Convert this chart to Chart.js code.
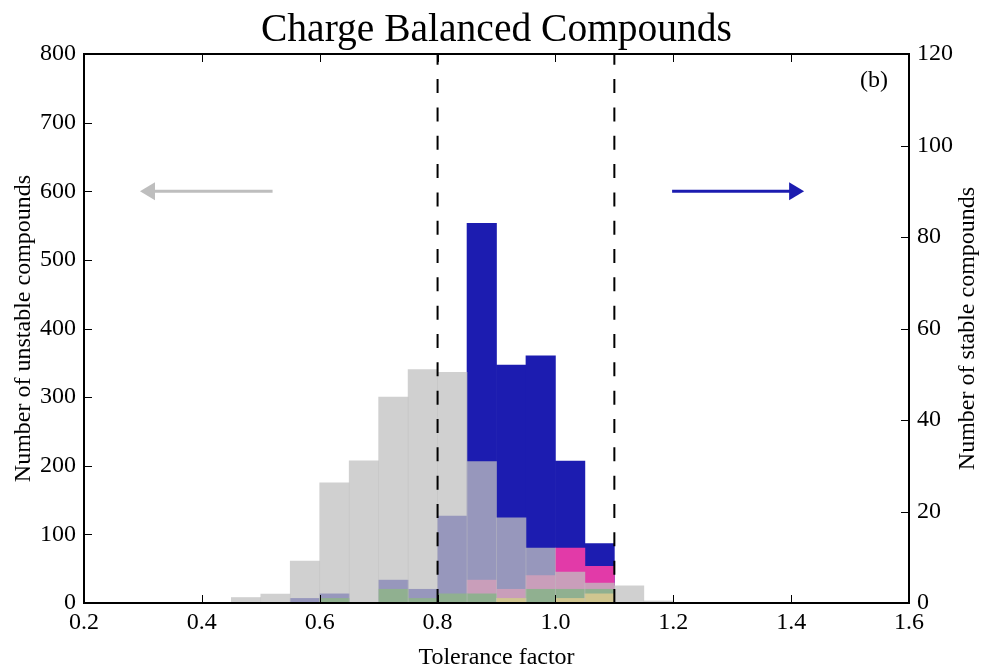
<!DOCTYPE html>
<html><head><meta charset="utf-8">
<script src="https://cdn.jsdelivr.net/npm/chart.js@4"></script>
<style>html,body{margin:0;padding:0;background:#fff}#wrap{width:984px;height:669px}</style>
</head><body><div id="wrap"><canvas id="c" width="984" height="669"></canvas></div>
<script>
// ---- data ----
const binCenters = [0.475,0.525,0.575,0.625,0.675,0.725,0.775,0.825,0.875,0.925,0.975,1.025,1.075,1.125,1.175];
const unstableCounts = [8,13,61,175,207,300,340,336,206,124,80,45,29,25,3];
const stableAll     = [0,0,1,2,0,5,3,19,83,52,54,31,13,0,0];
const stableMagenta = [0,0,0,0,0,0,0,0,5,3,6,12,8,0,0];
const stableGreen   = [0,0,0,1,0,3,1,2,2,0,3,3,3,0,0];
const stableGold    = [0,0,0,0,0,0,0,0,0,1,0,1,2,0,0];
const xTickValues = [0.2,0.4,0.6,0.8,1.0,1.2,1.4,1.6];
const leftTickValues = [0,100,200,300,400,500,600,700,800];
const rightTickValues = [0,20,40,60,80,100,120];
const boundaryLines = [0.8, 1.1];
const unstableArrowX = [0.52, 0.295];
const unstableArrowY = 600;
const stableArrowX = [1.198, 1.422];
const stableArrowY = 90;
const titleText = 'Charge Balanced Compounds';
const panelTag = '(b)';

const FONT = "'Liberation Serif','Times New Roman',serif";
Chart.defaults.font.family = FONT;
Chart.defaults.color = '#000';

const pts = vals => binCenters.map((x, i) => ({x: x, y: vals[i]}));
const vline = v => [{x: v, y: 0}, {x: v, y: 800}];
const BLUE = 'rgb(28,28,176)';

function drawArrow(ctx, x0, y0, x1, y1, color) {
  const dx = x1 - x0, dy = y1 - y0, len = Math.hypot(dx, dy);
  const ux = dx / len, uy = dy / len, hl = 15, hw = 9;
  const bx = x1 - ux * hl, by = y1 - uy * hl;
  ctx.strokeStyle = color; ctx.fillStyle = color; ctx.lineWidth = 3; ctx.lineCap = 'butt';
  ctx.beginPath(); ctx.moveTo(x0, y0); ctx.lineTo(bx + ux, by + uy); ctx.stroke();
  ctx.beginPath(); ctx.moveTo(x1, y1);
  ctx.lineTo(bx - uy * hw, by + ux * hw); ctx.lineTo(bx + uy * hw, by - ux * hw);
  ctx.closePath(); ctx.fill();
}

const decor = {
  id: 'decor',
  afterDraw(chart) {
    const {ctx, chartArea: a, scales: {x, y, y1}} = chart;
    ctx.save();
    ctx.strokeStyle = '#000'; ctx.lineWidth = 1;
    ctx.beginPath();
    xTickValues.forEach(v => {
      const px = Math.round(x.getPixelForValue(v)) + 0.5;
      ctx.moveTo(px, a.bottom); ctx.lineTo(px, a.bottom - 8);
      ctx.moveTo(px, a.top); ctx.lineTo(px, a.top + 8);
    });
    leftTickValues.forEach(v => {
      const py = Math.round(y.getPixelForValue(v)) + 0.5;
      ctx.moveTo(a.left, py); ctx.lineTo(a.left + 8, py);
    });
    rightTickValues.forEach(v => {
      const py = Math.round(y1.getPixelForValue(v)) + 0.5;
      ctx.moveTo(a.right, py); ctx.lineTo(a.right - 8, py);
    });
    ctx.stroke();
    ctx.lineWidth = 2;
    ctx.strokeRect(a.left, a.top, a.right - a.left, a.bottom - a.top);

    drawArrow(ctx, x.getPixelForValue(unstableArrowX[0]), y.getPixelForValue(unstableArrowY),
                   x.getPixelForValue(unstableArrowX[1]), y.getPixelForValue(unstableArrowY), '#bebebe');
    drawArrow(ctx, x.getPixelForValue(stableArrowX[0]), y1.getPixelForValue(stableArrowY),
                   x.getPixelForValue(stableArrowX[1]), y1.getPixelForValue(stableArrowY), BLUE);

    ctx.fillStyle = '#000';
    ctx.font = '39.5px ' + FONT; ctx.textAlign = 'center'; ctx.textBaseline = 'alphabetic';
    ctx.fillText(titleText, (a.left + a.right) / 2, 41);
    ctx.font = '24px ' + FONT; ctx.textAlign = 'left';
    ctx.fillText(panelTag, a.right - 49, a.top + 33);
    ctx.translate(968, (a.top + a.bottom) / 2); ctx.rotate(-Math.PI / 2);
    ctx.textAlign = 'center'; ctx.textBaseline = 'middle';
    ctx.fillText('Number of stable compounds', 0, 0);
    ctx.restore();
  }
};

const axisCommon = {
  grid: {display: false, drawTicks: false, offset: false},
  border: {display: false}
};

new Chart(document.getElementById('c'), {
  type: 'bar',
  data: {
    datasets: [
      {type: 'line', data: vline(boundaryLines[0]), yAxisID: 'y', borderColor: '#000', borderWidth: 2,
       borderDash: [14, 14.33], pointRadius: 0, fill: false, order: 0},
      {type: 'line', data: vline(boundaryLines[1]), yAxisID: 'y', borderColor: '#000', borderWidth: 2,
       borderDash: [14, 14.33], pointRadius: 0, fill: false, order: 0},
      {label: 'unstable', data: pts(unstableCounts), yAxisID: 'y', backgroundColor: 'rgba(192,192,192,0.75)', order: 1},
      {label: 'gold', data: pts(stableGold), yAxisID: 'y1', backgroundColor: 'rgb(255,215,0)', order: 2},
      {label: 'green', data: pts(stableGreen), yAxisID: 'y1', backgroundColor: 'rgb(0,128,0)', order: 3},
      {label: 'magenta', data: pts(stableMagenta), yAxisID: 'y1', backgroundColor: 'rgb(226,58,168)', order: 4},
      {label: 'stable', data: pts(stableAll), yAxisID: 'y1', backgroundColor: BLUE, order: 5}
    ]
  },
  options: {
    responsive: false, animation: false, devicePixelRatio: 1,
    layout: {padding: {top: 54, left: 0, right: 0, bottom: 0}},
    plugins: {legend: {display: false}, tooltip: {enabled: false}, title: {display: false}},
    datasets: {bar: {grouped: false, barPercentage: 1, categoryPercentage: 1, borderWidth: 0}},
    scales: {
      x: Object.assign({}, axisCommon, {
        type: 'linear', position: 'bottom', min: 0.2, max: 1.6, offset: false,
        afterBuildTicks: s => { s.ticks = xTickValues.map(v => ({value: v})); },
        ticks: {callback: v => Number(v).toFixed(1), font: {size: 24}, padding: 5, maxRotation: 0, autoSkip: false},
        title: {display: true, text: 'Tolerance factor', font: {size: 24}, padding: {top: 0, bottom: -3}},
        afterFit: s => { s.height = 66; }
      }),
      y: Object.assign({}, axisCommon, {
        position: 'left', min: 0, max: 800,
        afterBuildTicks: s => { s.ticks = leftTickValues.map(v => ({value: v})); },
        ticks: {font: {size: 24}, padding: 8, autoSkip: false},
        title: {display: true, text: 'Number of unstable compounds', font: {size: 24}, padding: {top: 9, bottom: 0}},
        afterFit: s => { s.width = 84; }
      }),
      y1: Object.assign({}, axisCommon, {
        position: 'right', min: 0, max: 120,
        afterBuildTicks: s => { s.ticks = rightTickValues.map(v => ({value: v})); },
        ticks: {font: {size: 24}, padding: 8, autoSkip: false},
        afterFit: s => { s.width = 75; }
      })
    }
  },
  plugins: [decor]
});
</script>
</body></html>
